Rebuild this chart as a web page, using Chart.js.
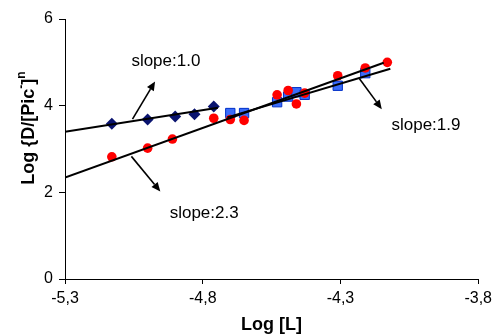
<!DOCTYPE html>
<html>
<head>
<meta charset="utf-8">
<script src="https://cdn.jsdelivr.net/npm/chart.js@4"></script>
<style>
  html, body { margin: 0; padding: 0; background: #fff; }
  #wrap { width: 497px; height: 336px; }
</style>
</head>
<body>
<div id="wrap"><canvas id="chart"></canvas></div>
<script>
// values
const diamondX = [-5.13, -5.0, -4.9, -4.83, -4.76];
const diamondY = [3.58, 3.68, 3.75, 3.80, 3.98];

const circleX = [-5.13, -5.0, -4.91, -4.76, -4.70, -4.65, -4.53, -4.49, -4.46, -4.43, -4.31, -4.21, -4.13];
const circleY = [2.82, 3.02, 3.23, 3.71, 3.68, 3.66, 4.25, 4.35, 4.04, 4.29, 4.69, 4.87, 5.00];

const squareX = [-4.70, -4.65, -4.53, -4.49, -4.46, -4.43, -4.31, -4.21];
const squareY = [3.83, 3.83, 4.08, 4.21, 4.31, 4.25, 4.46, 4.75];

// fitted lines (two end points each)
const fit1X = [-5.3, -4.745], fit1Y = [3.40, 3.95];
const fit2X = [-5.3, -4.143], fit2Y = [2.34, 4.99];
const fit3X = [-4.711, -4.119], fit3Y = [3.73, 4.85];

const xTicks = [-5.3, -4.8, -4.3, -3.8];
const yTicks = [0, 2, 4, 6];

// annotations, in data units
const slopeLabels = ['slope:1.0', 'slope:2.3', 'slope:1.9'];
const labelX = [-5.059, -4.92, -4.115];
const labelY = [5.02, 1.51, 3.55];
const arrowFromX = [-5.055, -5.059, -4.231], arrowFromY = [3.69, 2.83, 4.62];
const arrowToX = [-4.973, -4.954, -4.150], arrowToY = [4.56, 2.02, 3.92];

const FONT = "'Liberation Sans', Arial, sans-serif";

function pts(xs, ys) {
    return xs.map((x, i) => ({ x: x, y: ys[i] }));
}

function fitLine(xs, ys) {
    return {
        data: pts(xs, ys),
        showLine: true,
        borderColor: '#000',
        borderWidth: 2,
        pointRadius: 0,
        fill: false,
        order: 0
    };
}

const annotations = {
    id: 'annotations',
    afterDatasetsDraw(chart) {
        const ctx = chart.ctx;
        const xs = chart.scales.x, ys = chart.scales.y;
        ctx.save();

        // arrows
        ctx.strokeStyle = '#000';
        ctx.fillStyle = '#000';
        ctx.lineWidth = 1.6;
        arrowFromX.forEach((fx, i) => {
            const x1 = xs.getPixelForValue(fx), y1 = ys.getPixelForValue(arrowFromY[i]);
            const x2 = xs.getPixelForValue(arrowToX[i]), y2 = ys.getPixelForValue(arrowToY[i]);
            const a = Math.atan2(y2 - y1, x2 - x1);
            const len = 9, half = 4;
            const bx = x2 - Math.cos(a) * len, by = y2 - Math.sin(a) * len;
            ctx.beginPath();
            ctx.moveTo(x1, y1);
            ctx.lineTo(bx, by);
            ctx.stroke();
            ctx.beginPath();
            ctx.moveTo(x2, y2);
            ctx.lineTo(bx + Math.sin(a) * half, by - Math.cos(a) * half);
            ctx.lineTo(bx - Math.sin(a) * half, by + Math.cos(a) * half);
            ctx.closePath();
            ctx.fill();
        });

        // slope labels
        ctx.font = '17px ' + FONT;
        ctx.textAlign = 'left';
        ctx.textBaseline = 'middle';
        slopeLabels.forEach((t, i) => {
            ctx.fillText(t, xs.getPixelForValue(labelX[i]), ys.getPixelForValue(labelY[i]));
        });

        // y axis title with superscripts
        const parts = [
            ['Log {D/[Pic', 18, 0],
            ['-', 12, -7],
            [']', 18, 0],
            ['n', 12, -7]
        ];
        let total = 0;
        parts.forEach(p => {
            ctx.font = 'bold ' + p[1] + 'px ' + FONT;
            total += ctx.measureText(p[0]).width;
        });
        ctx.translate(28, 128);
        ctx.rotate(-Math.PI / 2);
        ctx.textBaseline = 'middle';
        let pos = -total / 2;
        parts.forEach(p => {
            ctx.font = 'bold ' + p[1] + 'px ' + FONT;
            ctx.fillText(p[0], pos, p[2] + 1);
            pos += ctx.measureText(p[0]).width;
        });
        ctx.restore();
    }
};

new Chart(document.getElementById('chart'), {
    type: 'scatter',
    data: {
        datasets: [
            fitLine(fit1X, fit1Y),
            fitLine(fit2X, fit2Y),
            fitLine(fit3X, fit3Y),
            {
                data: pts(circleX, circleY),
                pointStyle: 'circle',
                pointRadius: 4.8,
                backgroundColor: '#ff0000',
                borderColor: '#ff0000',
                borderWidth: 0,
                order: 1
            },
            {
                data: pts(squareX, squareY),
                pointStyle: 'rect',
                pointRadius: 6.6,
                backgroundColor: '#3a6cfa',
                borderColor: '#0030c8',
                borderWidth: 1,
                order: 2
            },
            {
                data: pts(diamondX, diamondY),
                pointStyle: 'rectRot',
                pointRadius: 6,
                backgroundColor: '#0a1470',
                borderColor: '#0a1470',
                borderWidth: 0,
                order: 2
            }
        ]
    },
    options: {
        responsive: true,
        maintainAspectRatio: false,
        animation: false,
        layout: { padding: { top: 19, right: 17, left: 0, bottom: 0 } },
        plugins: {
            legend: { display: false },
            tooltip: { enabled: false }
        },
        scales: {
            x: {
                type: 'linear',
                min: -5.3,
                max: -3.8,
                afterBuildTicks: s => { s.ticks = xTicks.map(v => ({ value: v })); },
                afterFit: s => { s.height = 57; },
                grid: { drawOnChartArea: false, color: '#000', tickLength: 5 },
                border: { color: '#000', width: 1 },
                ticks: {
                    color: '#000',
                    padding: 5,
                    maxRotation: 0,
                    font: { family: FONT, size: 16 },
                    callback: v => v.toFixed(1).replace('.', ',')
                },
                title: {
                    display: true,
                    text: 'Log [L]',
                    color: '#000',
                    font: { family: FONT, size: 18, weight: 'bold' },
                    padding: { top: 3, bottom: 0 }
                }
            },
            y: {
                type: 'linear',
                min: 0,
                max: 6,
                afterBuildTicks: s => { s.ticks = yTicks.map(v => ({ value: v })); },
                afterFit: s => { s.width = 65; },
                grid: { drawOnChartArea: false, color: '#000', tickLength: 6 },
                border: { color: '#000', width: 1 },
                ticks: {
                    color: '#000',
                    padding: 6,
                    font: { family: FONT, size: 16 }
                }
            }
        }
    },
    plugins: [annotations]
});
</script>
</body>
</html>
